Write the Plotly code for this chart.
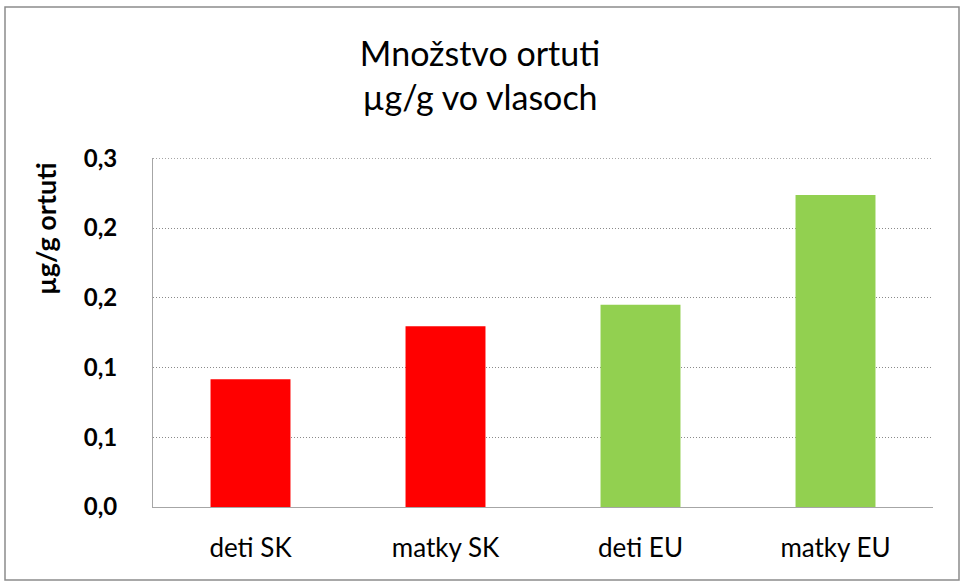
import plotly.graph_objects as go

categories = ["deti SK", "matky SK", "deti EU", "matky EU"]
values = [0.0915, 0.1295, 0.145, 0.2237]
colors = ["#ff0000", "#ff0000", "#92d050", "#92d050"]
tick_vals = [0.0, 0.05, 0.10, 0.15, 0.20, 0.25]
tick_text = ["0,0", "0,1", "0,1", "0,2", "0,2", "0,3"]

FONT = "Lato, Open Sans, sans-serif"

L, R, T, B = 153, 28, 158, 78
W, H = 961, 585
PW, PH = W - L - R, H - T - B

fig = go.Figure(go.Bar(x=categories, y=values, marker=dict(color=colors, line=dict(width=0)),
                       width=0.41))

fig.update_layout(
    width=W, height=H,
    margin=dict(l=L, r=R, t=T, b=B),
    paper_bgcolor="white", plot_bgcolor="white",
    showlegend=False,
    font=dict(family=FONT, color="black"),
    title=dict(text="Množstvo ortuti<br>µg/g vo vlasoch", x=480 / W, xanchor="center",
               xref="container", y=1 - 66 / H, yanchor="middle", yref="container",
               font=dict(family=FONT, size=34, color="black")),
)
fig.update_xaxes(showline=True, linecolor="#a6a6a6", linewidth=1, ticks="",
                 tickfont=dict(family=FONT, size=26), showgrid=False,
                 ticklabelstandoff=18)
fig.update_yaxes(range=[0, 0.2502], tickvals=tick_vals, ticktext=tick_text,
                 tickfont=dict(family=FONT, size=24, weight="bold"),
                 showline=True, linecolor="#a6a6a6", linewidth=1,
                 showgrid=True, gridcolor="#8a8a8a", griddash="1px,2px", gridwidth=1,
                 zeroline=False, ticks="", ticklabelstandoff=30)

# y-axis title (placed like the original, near the top of the axis)
fig.add_annotation(text="<b>µg/g ortuti</b>", textangle=-90, showarrow=False,
                   xref="paper", yref="paper",
                   x=(45 - L) / PW, y=(H - B - 229) / PH,
                   xanchor="center", yanchor="middle",
                   font=dict(family=FONT, size=27, color="black"))

# top gridline (at the highest tick)
fig.add_shape(type="line", xref="paper", yref="y", x0=0, x1=1,
              y0=tick_vals[-1], y1=tick_vals[-1],
              line=dict(color="#8a8a8a", width=1, dash="1px,2px"), layer="below")

# outer frame
fig.add_shape(type="rect", xref="paper", yref="paper",
              x0=(5 - L) / PW, x1=(959 - L) / PW,
              y0=(H - B - 580) / PH, y1=(H - B - 7) / PH,
              line=dict(color="#8c8c8c", width=1.5), layer="below")

fig.write_html("out.html", config={"displayModeBar": False},
               post_script="document.body.style.margin='0';")
